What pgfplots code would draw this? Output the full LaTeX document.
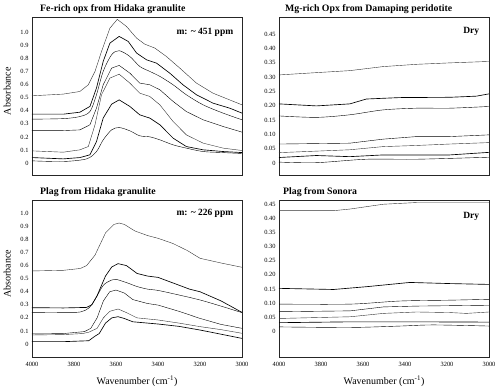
\documentclass[border=0pt]{standalone}
\usepackage{fontspec}
\setmainfont{Liberation Serif}
\usepackage{pgfplots}
\pgfplotsset{compat=1.18}

\pgfplotsset{
  panel/.style={
    scale only axis, width=210pt, clip=false,
    xmin=3000, xmax=4000, x dir=reverse,
    xtick={3000,3200,...,4000},
    /pgf/number format/set thousands separator={},
    /pgf/number format/assume math mode=true,
    major tick length=0pt,
    axis line style={line width=0.6pt, black!85},
    tick label style={font=\fontsize{6.4}{7}\selectfont},
    xticklabel style={yshift=-2pt},
    label style={font=\fontsize{10}{12}\selectfont},
    ylabel style={at={(axis description cs:-0.118,0.53)}, anchor=center},
    xlabel style={at={(axis description cs:0.5,-0.153)}, anchor=center},
    cycle list={{black!80, line width=0.65pt, smooth, no markers}},
  }
}
\tikzset{
  tag/.style={font=\bfseries\fontsize{9.5}{11}\selectfont, anchor=east},
  ttl/.style={font=\bfseries\fontsize{9.8}{11}\selectfont, anchor=base west, inner sep=0pt}
}

\begin{document}
\begin{tikzpicture}
\useasboundingbox (0,0) rectangle (500pt,-389pt);

% top left
\begin{axis}[panel, at={(32pt,-17pt)}, anchor=north west, height=158pt,
  ymin=-0.09, ymax=1.115,
  ytick={0,0.1,...,1.0}, yticklabels={0,0.1,0.2,0.3,0.4,0.5,0.6,0.7,0.8,0.9,1.0},
  xticklabels={}, ylabel={Absorbance}]
\addplot coordinates {(4000,0.514)(3851,0.527)(3772,0.547)(3732,0.598)(3700,0.70)(3669,0.852)(3629,1.03)(3594,1.097)(3550,1.043)(3502,0.954)(3463,0.908)(3415,0.878)(3360,0.814)(3296,0.725)(3217,0.611)(3138,0.534)(3059,0.483)(3000,0.445)};
\addplot coordinates {(4000,0.374)(3851,0.374)(3772,0.389)(3724,0.433)(3693,0.573)(3661,0.776)(3629,0.916)(3585,0.967)(3542,0.929)(3502,0.840)(3455,0.789)(3407,0.763)(3344,0.687)(3281,0.598)(3217,0.522)(3138,0.458)(3059,0.420)(3000,0.382)};
\addplot coordinates {(4000,0.336)(3851,0.340)(3772,0.356)(3724,0.394)(3693,0.522)(3661,0.700)(3621,0.827)(3585,0.858)(3534,0.814)(3487,0.738)(3439,0.700)(3391,0.662)(3328,0.598)(3265,0.522)(3185,0.445)(3090,0.382)(3000,0.331)};
\addplot coordinates {(4000,0.249)(3851,0.249)(3772,0.254)(3724,0.293)(3693,0.420)(3661,0.598)(3621,0.725)(3585,0.746)(3534,0.687)(3487,0.611)(3439,0.598)(3391,0.560)(3328,0.471)(3265,0.394)(3185,0.331)(3090,0.280)(3000,0.237)};
\addplot coordinates {(4000,0.094)(3851,0.084)(3772,0.102)(3732,0.127)(3700,0.293)(3669,0.522)(3629,0.649)(3585,0.679)(3534,0.611)(3487,0.534)(3439,0.509)(3391,0.445)(3328,0.318)(3265,0.216)(3185,0.153)(3090,0.115)(3000,0.097)};
\addplot coordinates {(4000,0.043)(3851,0.033)(3772,0.043)(3724,0.064)(3693,0.165)(3661,0.344)(3621,0.450)(3585,0.483)(3534,0.433)(3487,0.369)(3439,0.344)(3391,0.293)(3328,0.191)(3265,0.127)(3185,0.102)(3090,0.089)(3000,0.081)};
\addplot coordinates {(4000,0.018)(3851,0.013)(3740,0.033)(3693,0.089)(3661,0.178)(3621,0.254)(3585,0.272)(3534,0.247)(3487,0.209)(3439,0.201)(3391,0.178)(3328,0.140)(3265,0.115)(3185,0.089)(3090,0.081)(3000,0.074)};
\node[tag] at (axis description cs:0.975,0.905) {m: \textasciitilde{} 451 ppm};
\node[ttl] at ([xshift=8pt,yshift=5.5pt]current axis.north west) {Fe-rich opx from Hidaka granulite};
\end{axis}

% top right
\begin{axis}[panel, at={(279pt,-17pt)}, anchor=north west, height=158pt,
  ymin=-0.041, ymax=0.51,
  ytick={0,0.05,...,0.45}, yticklabels={0,0.05,0.10,0.15,0.20,0.25,0.30,0.35,0.40,0.45},
  xticklabels={}]
\addplot coordinates {(4000,0.308)(3822,0.316)(3663,0.323)(3505,0.337)(3346,0.345)(3187,0.350)(3000,0.355)};
\addplot coordinates {(4000,0.207)(3822,0.200)(3663,0.207)(3584,0.224)(3425,0.229)(3187,0.230)(3060,0.234)(3000,0.242)};
\addplot coordinates {(4000,0.165)(3822,0.160)(3663,0.169)(3505,0.186)(3346,0.192)(3187,0.192)(3000,0.198)};
\addplot coordinates {(4000,0.067)(3663,0.070)(3505,0.084)(3346,0.093)(3187,0.093)(3000,0.099)};
\addplot coordinates {(4000,0.037)(3663,0.047)(3505,0.058)(3346,0.062)(3187,0.067)(3000,0.072)};
\addplot coordinates {(4000,0.020)(3822,0.027)(3663,0.023)(3505,0.029)(3187,0.029)(3000,0.038)};
\addplot coordinates {(4000,0.004)(3822,0.002)(3584,0.014)(3346,0.014)(3000,0.021)};
\node[tag] at (axis description cs:0.97,0.911) {Dry};
\node[ttl] at ([xshift=6pt,yshift=5.5pt]current axis.north west) {Mg-rich Opx from Damaping peridotite};
\end{axis}

% bottom left
\begin{axis}[panel, at={(32pt,-200pt)}, anchor=north west, height=157pt,
  ymin=-0.0995, ymax=1.102,
  ytick={0,0.1,...,1.0}, yticklabels={0,0.1,0.2,0.3,0.4,0.5,0.6,0.7,0.8,0.9,1.0},
  ylabel={Absorbance}, xlabel={Wavenumber (cm\textsuperscript{-1})}]
\addplot coordinates {(4000,0.559)(3850,0.564)(3770,0.578)(3740,0.600)(3700,0.68)(3650,0.85)(3610,0.915)(3585,0.926)(3560,0.915)(3510,0.865)(3450,0.83)(3400,0.809)(3330,0.77)(3260,0.715)(3200,0.656)(3100,0.62)(3000,0.587)};
\addplot coordinates {(4000,0.278)(3850,0.276)(3740,0.280)(3715,0.30)(3690,0.37)(3650,0.52)(3620,0.59)(3590,0.615)(3550,0.60)(3500,0.54)(3450,0.52)(3400,0.51)(3350,0.48)(3300,0.45)(3250,0.42)(3200,0.40)(3100,0.33)(3000,0.242)};
\addplot coordinates {(4000,0.240)(3850,0.242)(3770,0.245)(3730,0.275)(3700,0.34)(3660,0.45)(3620,0.49)(3600,0.495)(3550,0.47)(3500,0.44)(3450,0.42)(3400,0.41)(3300,0.375)(3200,0.337)(3100,0.29)(3000,0.240)};
\addplot coordinates {(4000,0.077)(3850,0.080)(3750,0.095)(3720,0.12)(3690,0.20)(3660,0.33)(3630,0.40)(3600,0.413)(3560,0.39)(3520,0.34)(3450,0.31)(3400,0.298)(3300,0.25)(3200,0.196)(3100,0.15)(3000,0.120)};
\addplot coordinates {(4000,0.069)(3850,0.072)(3760,0.080)(3730,0.09)(3690,0.12)(3660,0.20)(3630,0.25)(3590,0.268)(3550,0.24)(3500,0.20)(3400,0.184)(3300,0.16)(3200,0.133)(3100,0.11)(3000,0.082)};
\addplot coordinates {(4000,0.018)(3850,0.018)(3730,0.025)(3700,0.06)(3680,0.08)(3650,0.16)(3620,0.20)(3590,0.209)(3560,0.195)(3520,0.17)(3400,0.153)(3300,0.135)(3200,0.107)(3100,0.075)(3000,0.043)};
\node[tag] at (axis description cs:0.975,0.917) {m: \textasciitilde{} 226 ppm};
\node[ttl] at ([xshift=8pt,yshift=5.5pt]current axis.north west) {Plag from Hidaka granulite};
\end{axis}

% bottom right
\begin{axis}[panel, at={(279pt,-200pt)}, anchor=north west, height=157pt,
  ymin=-0.092, ymax=0.466,
  ytick={0,0.05,...,0.45}, yticklabels={0,0.05,0.10,0.15,0.20,0.25,0.30,0.35,0.40,0.45},
  xlabel={Wavenumber (cm\textsuperscript{-1})}]
\addplot coordinates {(4000,0.428)(3740,0.428)(3661,0.434)(3503,0.451)(3345,0.457)(3187,0.457)(3000,0.457)};
\addplot coordinates {(4000,0.152)(3740,0.148)(3582,0.158)(3377,0.173)(3187,0.169)(3000,0.166)};
\addplot coordinates {(4000,0.096)(3661,0.096)(3424,0.107)(3187,0.110)(3000,0.113)};
\addplot coordinates {(4000,0.069)(3661,0.072)(3503,0.086)(3345,0.089)(3000,0.092)};
\addplot coordinates {(4000,0.045)(3661,0.051)(3503,0.063)(3345,0.068)(3187,0.066)(3108,0.063)(3000,0.068)};
\addplot coordinates {(4000,0.030)(3661,0.033)(3345,0.033)(3000,0.032)};
\addplot coordinates {(4000,0.015)(3661,0.013)(3424,0.018)(3266,0.022)(3000,0.018)};
\node[tag] at (axis description cs:0.97,0.898) {Dry};
\node[ttl] at ([xshift=4pt,yshift=5.5pt]current axis.north west) {Plag from Sonora};
\end{axis}
\end{tikzpicture}
\end{document}
